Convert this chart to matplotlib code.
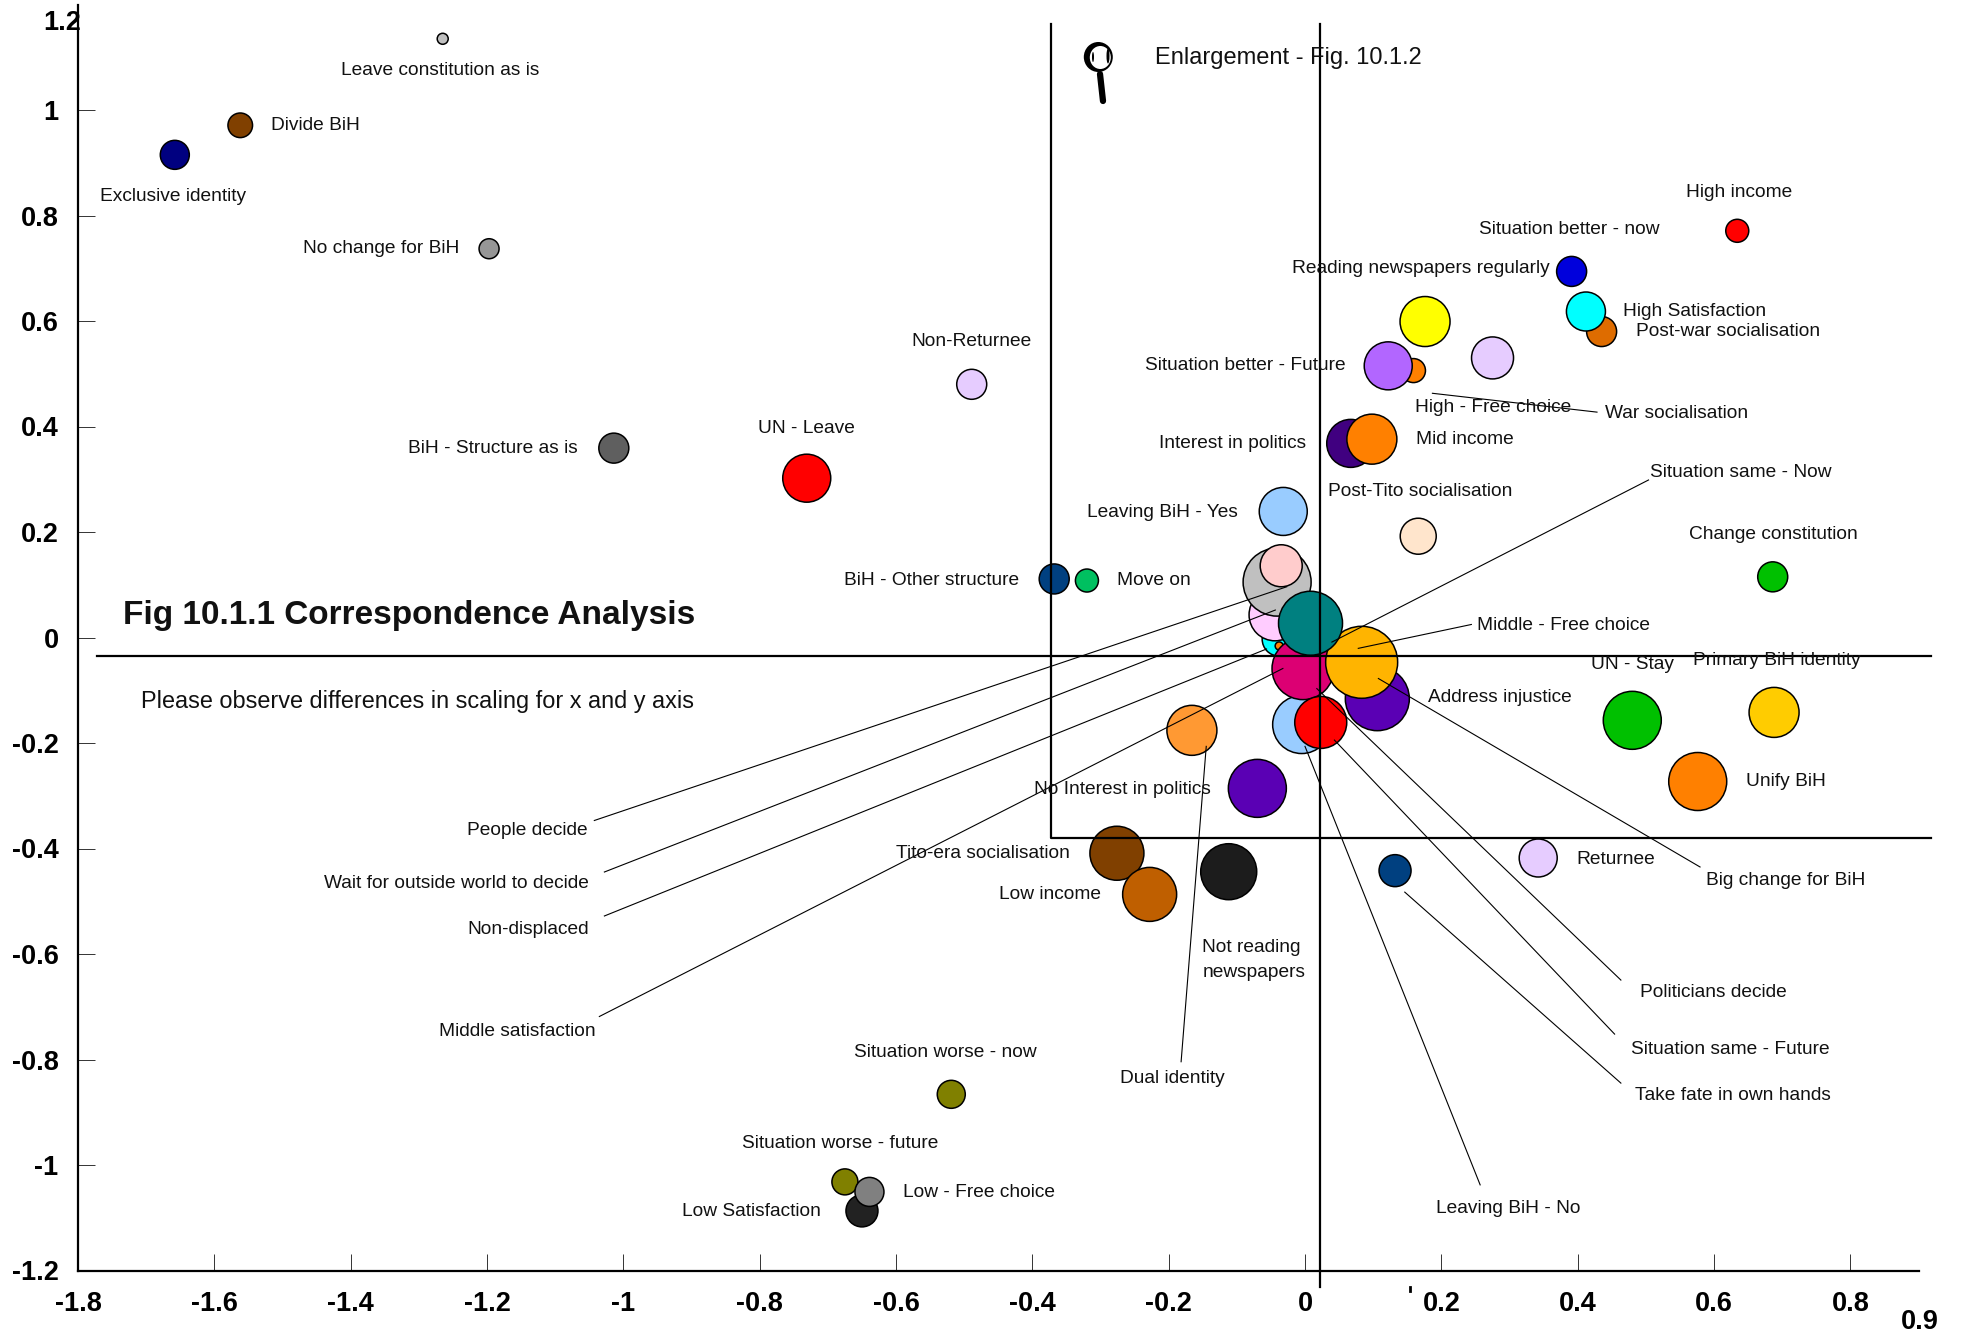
import matplotlib
matplotlib.use("Agg")
import matplotlib.pyplot as plt
from matplotlib.patches import Ellipse

plt.rcParams["font.family"] = ["Liberation Sans", "DejaVu Sans"]

W, H = 1969, 1335
S = 1.2565  # label spots below were read at this reduced scale

# bubbles, listed in drawing order
x_vals = [-1.265, -1.562, -1.658, -1.197, -1.014, -0.731, -0.489, -0.368, -0.320, -0.032,
          0.106, -0.005, -0.038, -0.038, -0.044, -0.041, -0.035, -0.003, 0.023, 0.083, 0.008,
          -0.166, -0.070, 0.166, -0.276, -0.228, -0.112, 0.342, 0.132, 0.480, 0.688, 0.576,
          0.686, 0.634, 0.391, 0.435, 0.412, 0.176, 0.275, 0.159, 0.122, 0.067, 0.098,
          -0.519, -0.675, -0.650, -0.639]
y_vals = [1.135, 0.971, 0.915, 0.737, 0.359, 0.302, 0.480, 0.111, 0.108, 0.239,
          -0.116, -0.165, -0.003, -0.016, 0.043, 0.105, 0.136, -0.059, -0.161, -0.047, 0.027,
          -0.176, -0.286, 0.192, -0.409, -0.487, -0.444, -0.418, -0.442, -0.157, -0.142, -0.273,
          0.115, 0.771, 0.694, 0.580, 0.618, 0.599, 0.530, 0.506, 0.515, 0.368, 0.376,
          -0.866, -1.032, -1.087, -1.051]
radius = [5.5, 12.3, 14.5, 10, 15, 24, 15, 15, 11.5, 24,
          32, 29, 17, 4, 26, 34, 21, 31, 26, 36, 32,
          25, 29, 18, 27, 27, 28, 19, 16, 29, 25, 29,
          15, 11.5, 15, 15, 19.5, 25, 21, 12, 24, 24, 25,
          14, 13, 16, 14.5]
colors = ["#c0c0c0", "#804000", "#000080", "#969696", "#5f5f5f", "#ff0000", "#e6ccff", "#004080", "#00c060", "#99ccff",
          "#5a00b4", "#99ccff", "#00ffff", "#ff8000", "#ffccff", "#c0c0c0", "#ffcccc", "#dc0073", "#ff0000", "#ffb400", "#008080",
          "#ff9933", "#5a00b4", "#ffe5cc", "#804000", "#bf5f00", "#1c1c1c", "#e6ccff", "#004080", "#00c000", "#ffcc00", "#ff8000",
          "#00c000", "#ff0000", "#0000dc", "#de6c00", "#00ffff", "#ffff00", "#e6ccff", "#ff8000", "#b266ff", "#400080", "#ff8000",
          "#808000", "#808000", "#222222", "#808080"]

x_ticks = [-1.8, -1.6, -1.4, -1.2, -1, -0.8, -0.6, -0.4, -0.2, 0, 0.2, 0.4, 0.6, 0.8]
y_ticks = [-1.2, -1, -0.8, -0.6, -0.4, -0.2, 0, 0.2, 0.4, 0.6, 0.8, 1]

labels = [
    ("Leave constitution as is", 350, 55), ("Divide BiH", 251, 99), ("Exclusive identity", 138, 155),
    ("No change for BiH", 303, 197), ("Non-Returnee", 773, 271), ("BiH - Structure as is", 392, 356),
    ("UN - Leave", 642, 340), ("BiH - Other structure", 741, 461), ("Move on", 918, 461),
    ("Leaving BiH - Yes", 925, 407), ("Interest in politics", 981, 352), ("Mid income", 1166, 349),
    ("Post-Tito socialisation", 1130, 390), ("Situation better - Future", 991, 290),
    ("High - Free choice", 1188, 323), ("War socialisation", 1334, 328),
    ("Reading newspapers regularly", 1131, 213), ("Situation better - now", 1249, 182),
    ("High income", 1384, 152), ("High Satisfaction", 1349, 247), ("Post-war socialisation", 1375, 263),
    ("Situation same - Now", 1385, 375), ("Change constitution", 1411, 424),
    ("Middle - Free choice", 1244, 497), ("UN - Stay", 1299, 528), ("Primary BiH identity", 1414, 525),
    ("Address injustice", 1194, 554), ("Unify BiH", 1421, 621), ("No Interest in politics", 893, 627),
    ("Tito-era socialisation", 782, 678), ("Low income", 836, 711), ("Returnee", 1286, 683),
    ("Big change for BiH", 1421, 700), ("People decide", 420, 660),
    ("Wait for outside world to decide", 363, 702), ("Non-displaced", 420, 739),
    ("Middle satisfaction", 412, 820), ("Politicians decide", 1364, 789),
    ("Situation same - Future", 1377, 834), ("Take fate in own hands", 1379, 871),
    ("Dual identity", 933, 857), ("Leaving BiH - No", 1200, 961), ("Situation worse - now", 752, 837),
    ("Situation worse - future", 669, 909), ("Low - Free choice", 779, 948), ("Low Satisfaction", 598, 963),
]

leaders = [
    (473, 653, 1024, 467), (481, 694, 1015, 485.5), (481, 729, 1008, 516.5), (477, 809, 1021, 532),
    (1312, 382, 1060, 511), (1171, 497, 1081, 516), (1353, 690, 1097, 540), (1290, 780, 1048, 548),
    (1285, 823, 1062, 589), (1290, 862, 1118, 710), (1178, 943, 1038.6, 594), (940, 845, 960, 594),
    (1140, 313, 1271, 328),
]


def px(x, y):
    return x / W, 1 - y / H


fig = plt.figure(figsize=(W / 100, H / 100), dpi=100)
ax = fig.add_axes([78 / W, 1 - 1270.5 / H, (1918.6 - 78) / W, (1270.5 - 4.5) / H])
ax.set_xlim(-1.8, 0.9)
ax.set_ylim(-1.2, 1.2)

ax.scatter(x_vals, y_vals, s=[(2 * r * 0.72) ** 2 for r in radius], c=colors,
           edgecolors="black", linewidths=1.1, zorder=3, clip_on=False)

for s in ["top", "right"]:
    ax.spines[s].set_visible(False)
for s in ["left", "bottom"]:
    ax.spines[s].set_linewidth(1.6)

ax.set_xticks(x_ticks)
ax.set_xticklabels(["%g" % t for t in x_ticks], fontsize=19.5, fontweight="bold")
ax.set_yticks(y_ticks)
ax.set_yticklabels(["%g" % t for t in y_ticks], fontsize=19.5, fontweight="bold")
ax.tick_params(axis="x", direction="in", length=12, width=0.7, color="#333333", pad=15)
ax.tick_params(axis="y", direction="in", length=12, width=0.7, color="#333333", pad=14)

# enlargement frame and the cross through the origin region
ax.plot([-0.373, -0.373, 0.918], [1.163, -0.380, -0.380], color="black", lw=1.6, zorder=5, clip_on=False)
ax.plot([0.022, 0.022], [1.163, -1.231], color="black", lw=1.6, zorder=5, clip_on=False)
ax.plot([-1.772, 0.918], [-0.035, -0.035], color="black", lw=1.6, zorder=5, clip_on=False)

for x0, y0, x1, y1 in leaders:
    fig.add_artist(plt.Line2D([x0 * S / W, x1 * S / W], [1 - y0 * S / H, 1 - y1 * S / H],
                              color="black", lw=0.8, zorder=6))

for txt, x, y in labels:
    fig.text(*px(x * S, (y + 1) * S), txt, fontsize=13.75, ha="center", va="center", color="#111111", zorder=7)
fig.text(*px(957 * S, 764 * S), "Not reading\nnewspapers", fontsize=13.75, ha="left", va="center",
         color="#111111", linespacing=1.55, zorder=7)

fig.text(*px(98 * S, 489.5 * S), "Fig 10.1.1 Correspondence Analysis", fontsize=24, fontweight="bold",
         ha="left", va="center", color="#111111", zorder=7)
fig.text(*px(112 * S, 558 * S), "Please observe differences in scaling for x and y axis", fontsize=16.9,
         ha="left", va="center", color="#111111", zorder=7)
fig.text(*px(919 * S, 46 * S), "Enlargement - Fig. 10.1.2", fontsize=17, ha="left", va="center",
         color="#111111", zorder=7)

# odd leftovers of the original layout
fig.text(*px(81, 23), "1.2", fontsize=19.5, fontweight="bold", ha="right", va="center")
fig.text(*px(1528 * S, 1052 * S), "0.9", fontsize=19.5, fontweight="bold", ha="center", va="center")
fig.add_artist(plt.Line2D([1410 / W, 1410 / W], [1 - 1287 / H, 1 - 1291 / H], color="black", lw=2))

# magnifying glass
for cx, cy, w, h, fc in [(1098.3, 57, 29, 30, "black"), (1100.3, 57.5, 21, 23, "white"),
                         (1093, 57, 2, 10, "black"), (1108, 56, 3, 15, "black")]:
    fig.add_artist(Ellipse(px(cx, cy), w / W, h / H, transform=fig.transFigure, facecolor=fc,
                           edgecolor="none", zorder=7))
fig.add_artist(plt.Line2D([1100 / W, 1103 / W], [1 - 74 / H, 1 - 101 / H], color="black", lw=4.5,
                          solid_capstyle="round", zorder=7))

fig.savefig("out.png", dpi=100)
